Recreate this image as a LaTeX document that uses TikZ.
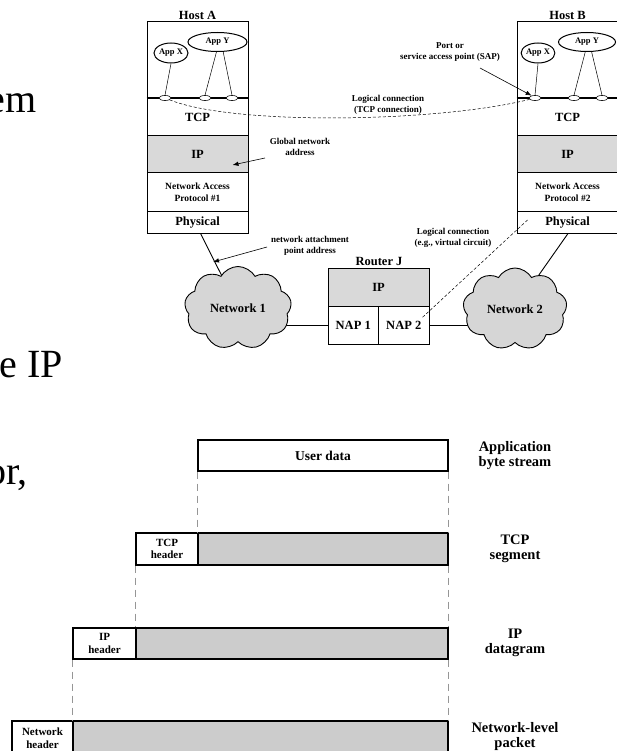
\documentclass[tikz,border=0pt]{standalone}
\usepackage{fontspec}
\setmainfont{Liberation Serif}
\usetikzlibrary{shapes.geometric,shapes.symbols,arrows.meta,backgrounds,calc}
\definecolor{layergray}{RGB}{217,217,217}
\definecolor{pktgray}{RGB}{204,204,204}
\definecolor{cloudgray}{RGB}{214,214,214}
\definecolor{guidegray}{RGB}{150,150,150}
\begin{document}
\begin{tikzpicture}[x=1pt,y=-1pt,
  layer/.style={draw, line width=1pt, inner sep=0, fill=white,
    font=\bfseries\fontsize{12.5}{14}\selectfont, align=center},
  graylayer/.style={layer, fill=layergray},
  smalllayer/.style={layer, font=\bfseries\fontsize{9.5}{12}\selectfont},
  lbl/.style={inner sep=0, font=\bfseries\fontsize{12.5}{15}\selectfont},
  note/.style={inner sep=0, align=center, font=\bfseries\fontsize{9}{11}\selectfont},
  app/.style={ellipse, draw, line width=1pt, fill=white, inner sep=0,
    font=\bfseries\fontsize{8.5}{10}\selectfont},
  port/.style={ellipse, draw, line width=0.6pt, fill=white,
    minimum width=12pt, minimum height=5pt, inner sep=0},
  net/.style={cloud, cloud puffs=9, cloud puff arc=120, aspect=1.3,
    draw, line width=0.9pt, fill=cloudgray, inner sep=0,
    font=\bfseries\fontsize{12.5}{15}\selectfont},
  wire/.style={line width=0.9pt},
  thinwire/.style={line width=0.5pt},
  arr/.style={line width=0.6pt, -{Latex[length=6pt,width=4.5pt]}},
  logical/.style={line width=0.5pt, dash pattern=on 3pt off 2pt},
  pkt/.style={draw, line width=1.1pt, inner sep=0, align=center,
    font=\bfseries\fontsize{11}{12.5}\selectfont},
  pktdata/.style={pkt, fill=pktgray},
  side/.style={inner sep=0, align=center, font=\bfseries\fontsize{14.5}{15}\selectfont},
  guide/.style={draw=guidegray, line width=0.8pt, dash pattern=on 7pt off 5pt},
  slide/.style={inner sep=0, font=\fontsize{40}{44}\selectfont}
]
\useasboundingbox (0,0) rectangle (617,751);

% ---- bits of the slide text beside the figure
\node[slide, anchor=base east] (s1) at (37,113) {em};
\node[slide, anchor=base east] (s2) at (63,377) {le IP};
\node[slide, anchor=base east] (s3) at (28,484) {or,};

% ---- Host A
\node[lbl] (hostA) at (197.5,15) {Host A};
\node[layer, minimum width=101pt, minimum height=114pt] (aTop) at (197.5,79) {};
\node[graylayer, minimum width=101pt, minimum height=37pt] (aIP) at (197.5,154.5) {IP};
\node[smalllayer, minimum width=101pt, minimum height=39pt] (aNA) at (197.5,192.5) {Network Access\\Protocol \#1};
\node[layer, minimum width=101pt, minimum height=21pt] (aPhy) at (197.5,222.5) {Physical};
\node[lbl] (aTCP) at (197.5,117) {TCP};
\draw[line width=1.6pt] (aTop.west |- 0,98) -- (aTop.east |- 0,98);
\node[app, minimum width=34pt, minimum height=20pt] (aAppX) at (171,53) {App X};
\node[app, minimum width=59pt, minimum height=19pt] (aAppY) at (217.5,42) {App Y};
\node[port] (aPX) at (165,98) {};
\node[port] (aPY1) at (205,98) {};
\node[port] (aPY2) at (232,98) {};
\draw[thinwire] (aAppX.south) -- (aPX.north);
\draw[thinwire] (aAppY.264) -- (aPY1.north);
\draw[thinwire] (aAppY.300) -- (aPY2.north);

% ---- Host B
\node[lbl] (hostB) at (567.5,15) {Host B};
\node[layer, minimum width=101pt, minimum height=114pt] (bTop) at (567.5,79) {};
\node[graylayer, minimum width=101pt, minimum height=37pt] (bIP) at (567.5,154.5) {IP};
\node[smalllayer, minimum width=101pt, minimum height=39pt] (bNA) at (567.5,192.5) {Network Access\\Protocol \#2};
\node[layer, minimum width=101pt, minimum height=21pt] (bPhy) at (567.5,222.5) {Physical};
\node[lbl] (bTCP) at (567.5,117) {TCP};
\draw[line width=1.6pt] (bTop.west |- 0,98) -- (bTop.east |- 0,98);
\node[app, minimum width=32pt, minimum height=20pt] (bAppX) at (538,53) {App X};
\node[app, minimum width=57pt, minimum height=19pt] (bAppY) at (587,42) {App Y};
\node[port] (bPX) at (535,98) {};
\node[port] (bPY1) at (574,98) {};
\node[port] (bPY2) at (602,98) {};
\draw[thinwire] (bAppX.south) -- (bPX.north);
\draw[thinwire] (bAppY.260) -- (bPY1.north);
\draw[thinwire] (bAppY.295) -- (bPY2.north);

% ---- Router J
\node[lbl] (routerJ) at (379,261) {Router J};
\node[graylayer, minimum width=101pt, minimum height=38pt] (rIP) at (378.5,287) {IP};
\node[layer, minimum width=50.5pt, minimum height=38pt] (nap1) at (353.25,325) {NAP 1};
\node[layer, minimum width=50.5pt, minimum height=38pt] (nap2) at (403.75,325) {NAP 2};

% ---- networks
\node[net, minimum width=107pt, minimum height=83pt] (net1) at (238,308) {Network 1};
\node[net, minimum width=104pt, minimum height=82pt] (net2) at (515,309) {Network 2};

\begin{scope}[on background layer]
  \draw[wire] ([xshift=3pt]aPhy.south) -- (net1.center);
  \draw[wire] ([xshift=0.5pt]bPhy.south) -- (net2.center);
  \draw[wire] (nap1.west) -- (nap1.west -| net1.center);
  \draw[wire] (nap2.east) -- (nap2.east -| net2.center);
\end{scope}

% ---- logical connections
\draw[logical] (aPX) .. controls (235,126) and (440,122) .. (bPX);
\node[note] (tcpconn) at (388,105) {Logical connection\\(TCP connection)};
\coordinate (vcB) at ($(bPhy.west)+(11,-2.5)$);
\coordinate (vcR) at ($(nap2.center)+(18,-7)$);
\draw[logical] (vcB) -- (vcR);
\node[note] (vcnote) at (453,237.5) {Logical connection\\(e.g., virtual circuit)};

% ---- annotations with arrows
\node[note] (sap) at (450,52.5) {Port or\\service access point (SAP)};
\coordinate (sapTail) at (480,68);
\draw[arr] (sapTail) -- (bPX.145);
\node[note] (gna) at (300,146.5) {Global network\\address};
\coordinate (gnaTail) at (265,158);
\coordinate (gnaTip) at ($(aIP.east)+(-16,10.5)$);
\draw[arr] (gnaTail) -- (gnaTip);
\node[note] (napa) at (310,246) {network attachment\\point address};
\coordinate (napaTail) at (267,247);
\coordinate (napaTip) at (213,262);
\draw[arr] (napaTail) -- (napaTip);

% ---- encapsulation
\node[pkt, minimum width=250pt, minimum height=31pt, font=\bfseries\fontsize{13.5}{15}\selectfont] (ud) at (323,455.5) {User data};
\node[pkt, minimum width=62pt, minimum height=32pt] (tcpH) at (167,549) {TCP\\header};
\node[pktdata, minimum width=250pt, minimum height=32pt] (tcpD) at (323,549) {};
\node[pkt, minimum width=63pt, minimum height=31pt] (ipH) at (104.5,643.5) {IP\\header};
\node[pktdata, minimum width=312pt, minimum height=31pt] (ipD) at (292,643.5) {};
\node[pkt, minimum width=61pt, minimum height=34pt] (nwH) at (42.5,738) {Network\\header};
\node[pktdata, minimum width=375pt, minimum height=34pt] (nwD) at (260.5,738) {};

\draw[guide] (ud.south west) -- (tcpD.north west);
\draw[guide] (ud.south east) -- (tcpD.north east);
\draw[guide] (tcpH.south west) -- (ipD.north west);
\draw[guide] (tcpD.south east) -- (ipD.north east);
\draw[guide] (ipH.south west) -- (nwD.north west);
\draw[guide] (ipD.south east) -- (nwD.north east);

\node[side] (l1) at (515,455.5) {Application\\byte stream};
\node[side] (l2) at (515,549) {TCP\\segment};
\node[side] (l3) at (515,643) {IP\\datagram};
\node[side] (l4) at (515,736.5) {Network-level\\packet};
\end{tikzpicture}
\end{document}
